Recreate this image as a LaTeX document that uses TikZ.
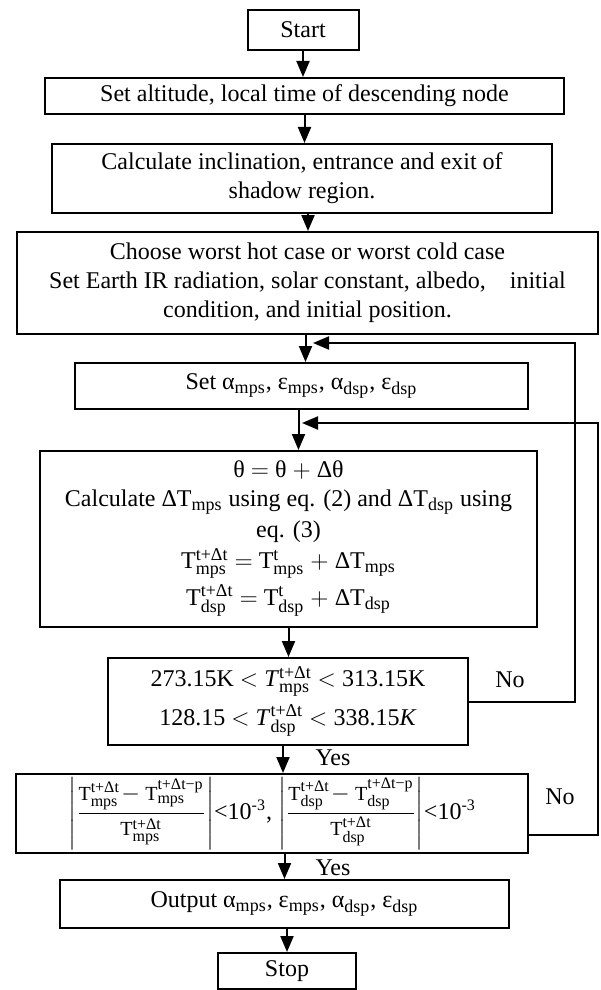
\documentclass[tikz,border=0pt,12pt]{standalone}
\usepackage{amsmath}
\usepackage{fontspec}
\setmainfont{Liberation Serif}
\usetikzlibrary{arrows.meta,calc}

\tikzset{every picture/.style={line width=1pt}}
\tikzset{
  blk/.style={draw, rectangle, inner sep=0pt, align=center},
  arr/.style={-{Triangle[width=6.5pt,length=8pt]}},
  lbl/.style={inner sep=0pt}
}
\newcommand{\sub}[1]{\mbox{\fontsize{9}{9}\selectfont #1}}
\newcommand{\fsub}[1]{\mbox{\fontsize{8}{8}\selectfont #1}}
\newcommand{\fT}{\mbox{\fontsize{10}{10}\selectfont T}}

\begin{document}
\begin{tikzpicture}[x=0.5pt,y=0.5pt,yscale=-1,xscale=1]
		\useasboundingbox (0,0) rectangle (600,990);

		%Boxes
		\node[blk, minimum width=55.5pt, minimum height=20pt] (start) at (303,30) {Start};
		\node[blk, minimum width=259.5pt, minimum height=18pt] (alt) at (304.5,96) {Set altitude, local time of descending node};
		\node[blk, minimum width=250pt, minimum height=34.5pt] (incl) at (302,178.5) {Calculate inclination, entrance and exit of\\shadow region.};
		\node[blk, minimum width=290.5pt, minimum height=51pt] (worst) at (307.5,283) {Choose worst hot case or worst cold case\\Set Earth IR radiation, solar constant, albedo,\quad initial\\condition, and initial position.};
		\node[blk, minimum width=226.5pt, minimum height=23pt] (setprop) at (301.5,386) {Set α$_{\sub{mps}}$, ε$_{\sub{mps}}$, α$_{\sub{dsp}}$, ε$_{\sub{dsp}}$};
		\node[blk, minimum width=248.5pt, minimum height=88pt] (update) at (288.5,539) {θ $=$ θ $+$ Δθ\\
			Calculate ΔT$_{\sub{mps}}$ using eq. (2) and ΔT$_{\sub{dsp}}$ using\\[1pt]
			eq. (3)\\[1pt]
			T$^{\sub{t+Δt}}_{\sub{mps}}$ $=$ T$^{\sub{t}}_{\sub{mps}}$ $+$ ΔT$_{\sub{mps}}$\\[2pt]
			T$^{\sub{t+Δt}}_{\sub{dsp}}$ $=$ T$^{\sub{t}}_{\sub{dsp}}$ $+$ ΔT$_{\sub{dsp}}$\rule[-6pt]{0pt}{0pt}};
		\node[blk, minimum width=180pt, minimum height=43.5pt] (tempchk) at (288,701.5) {273.15K $<$ \textit{T}$^{\sub{t+Δt}}_{\sub{mps}}$ $<$ 313.15K\\[3pt]
			128.15 $<$ \textit{T}$^{\sub{t+Δt}}_{\sub{dsp}}$ $<$ 338.15\textit{K}};
		\node[blk, minimum width=256pt, minimum height=39.5pt] (convchk) at (272,813.5) {$\left|\dfrac{\fT^{\fsub{t+Δt}}_{\fsub{mps}}\!-\fT^{\fsub{t+Δt−p}}_{\fsub{mps}}}{\fT^{\fsub{t+Δt}}_{\fsub{mps}}}\right|$<10\textsuperscript{-3}, $\left|\dfrac{\fT^{\fsub{t+Δt}}_{\fsub{dsp}}\!-\fT^{\fsub{t+Δt−p}}_{\fsub{dsp}}}{\fT^{\fsub{t+Δt}}_{\fsub{dsp}}}\right|$<10\textsuperscript{-3}};
		\node[blk, minimum width=224.5pt, minimum height=24pt] (output) at (284.5,904) {Output α$_{\sub{mps}}$, ε$_{\sub{mps}}$, α$_{\sub{dsp}}$, ε$_{\sub{dsp}}$};
		\node[blk, minimum width=69pt, minimum height=18pt] (stop) at (287,971) {Stop};

		%Labels
		\node[lbl] (yes1) at (333,758) {Yes};
		\node[lbl] (yes2) at (333,868) {Yes};
		\node[lbl] (no1) at (510,680) {No};
		\node[lbl] (no2) at (560,797) {No};

		%Straight Lines
		\draw[arr] (start.south) -- (start.south |- alt.north);
		\draw[arr] (alt.south) -- (alt.south |- incl.north);
		\draw[arr] ([xshift=3pt]incl.south) -- ([xshift=3pt]incl.south |- worst.north);
		\draw[arr] ([xshift=-1pt]worst.south) -- ([xshift=-1pt]worst.south |- setprop.north);
		\draw[arr] ([xshift=-1.5pt]setprop.south) -- ([xshift=-1.5pt]setprop.south |- update.north);
		\draw[arr] (update.south) -- (update.south |- tempchk.north);
		\draw[arr] ([xshift=-2.5pt]tempchk.south) -- ([xshift=-2.5pt]tempchk.south |- convchk.north);
		\draw[arr] (output.north |- convchk.south) -- (output.north);
		\draw[arr] (stop.north |- output.south) -- (stop.north);

		%Feedback loops
		\coordinate (back1) at (313,343);
		\coordinate (back2) at (302,423);
		\draw[arr] (tempchk.east) -- ++(106,0) |- (back1);
		\draw[arr] ([yshift=10.75pt]convchk.east) -- ++(69,0) |- (back2);

		\end{tikzpicture}
\end{document}
